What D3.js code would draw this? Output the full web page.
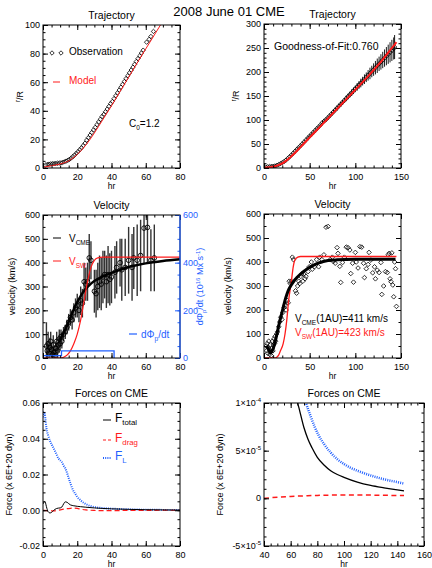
<!DOCTYPE html>
<html>
<head>
<meta charset="utf-8">
<script src="https://cdn.jsdelivr.net/npm/d3@7"></script>
<style>
body { margin: 0; background: #fff; }
svg { display: block; font-family: "Liberation Sans", Arial, sans-serif; }
</style>
</head>
<body>
<svg id="chart" width="432" height="568"></svg>
<script>
// ---- trajectory, first 80 hr ----
const trajObsT = [1.5,2.5,3.5,4.5,5.5,6.5,7.5,8.5,9.5,10.5,11.5,12.5,13.5,14.5,15.5,16.5,17.5,18.5,19.5,20.5,21.5,22.5,23.5,24.5,25.5,26.5,27.5,28.5,29.5,30.5,31.5,32.5,33.5,34.5,35.5,36.5,37.5,38.5,39.5,40.5,41.5,42.5,43.5,44.5,45.5,46.5,47.5,48.5,49.5,50.5,51.5,52.5,53.5,54.5,55.5,56.5,57.5,58.5,60.5,62,63,64.5];
const trajObsR = [2.0,2.5,2.7,2.9,3.0,3.1,3.2,3.3,3.4,3.6,3.9,4.3,4.8,5.4,6.1,7.0,8.0,9.1,10.3,11.5,12.8,14.2,15.7,17.3,19.5,21.2,23.0,24.8,26.6,28.4,30.3,32.2,34.1,36.0,37.5,39.3,41.2,43.1,45.0,46.5,48.5,50.5,52.5,54.5,56.5,58.5,60.5,62.5,64.5,66.5,68.5,70.5,72.5,74.5,76.5,78.4,80.4,82.4,88,90,92,95.5];
const trajModelT = [0,5,10,15,20,25,30,35,40,45,50,55,60,65,70];
const trajModelR = [0.5,1.6,2.8,5,9.5,16,24.5,34,43.5,53.5,63.5,73.5,83.3,93,102.7];

// ---- trajectory, full run ----
const traj2T = [2,4,6,8,10,12,14,16,18,20,22,24,26,28,30,32,34,36,38,40,42,44,46,48,50,52,54,56,58,60,62,64,66,68,70,72,74,76,78,80,82,84,86,88,90,92,94,96,98,100,102,104,106,108,110,112,114,116,118,120,122,124,126,128,130,132,134,136,138,140,142,143];
const traj2R = [2,2.6,3,3.3,3.6,4.3,5.4,7,9.1,11,13.5,16.3,20,23.5,27,31,35,39,42.5,46.5,50.5,54.5,58.5,62.5,66.5,70.5,74.5,78.4,82.4,86,90,95,98,101,105,109,113,117,121,125,129,133,137,141,145,149,153,157,161,165,169,173,177,181,185,189,193,197,201,205,209,213,217,221,225,229,233,237,241,245,249,252];
const traj2Err = [0,0,0,0,0,0,0,0,0,0,0,0,0,0,1,1,1,1,1,1,1,1,1,2,2,2,2,2,2,2,2,3,3,3,3,3,4,4,4,4,5,5,5,5,6,6,6,7,7,7,8,8,9,9,10,10,11,12,12,13,14,15,15,16,17,18,19,20,21,22,23,25];
const traj2ModelT = [0,10,20,30,40,50,60,70,80,90,100,110,120,130,140,145];
const traj2ModelR = [0.5,2.8,9.5,24.5,43.5,63.5,83.3,103,123,143,163,183,204,226,250,262];

// ---- velocity, first 80 hr ----
const velT = [2,2.5,3,3.5,4,4.5,5,5.5,6,6.5,7,7.5,8,8.5,9,9.5,10,10.5,11,12,13,14,15,16,17,18,19,20,21,22,23,24,25,26,27,28,30,31,32,33,34,35,36,37,38,39,40,42,43,45,46,48,50,52,53,55,57,59,61,63,65];
const velV = [50,30,60,20,45,70,35,15,55,25,10,40,70,30,55,80,60,90,70,100,110,130,150,170,160,190,210,220,200,240,230,320,310,320,420,410,280,270,300,320,310,340,350,320,350,330,340,360,380,400,370,380,410,380,420,410,430,545,548,410,420];
const velErr = [100,40,50,30,40,40,30,30,40,30,30,30,40,30,30,40,30,30,30,30,30,30,35,35,40,40,40,50,50,60,60,80,70,80,100,80,90,100,100,110,110,110,100,110,120,110,110,110,110,100,130,120,140,140,130,150,150,150,150,130,140];
const vCmeT = [10,12,14,16,18,20,22,24,26,28,30,35,40,45,50,55,60,70,80];
const vCmeV = [75,105,135,170,205,235,260,282,298,312,323,342,357,370,382,390,397,407,414];
const vSwT = [0,10,12,14,16,18,20,22,24,26,28,30,32,35,40,80];
const vSwV = [0,0,3,12,30,60,100,160,240,320,380,410,420,423,423,423];
const fluxT = [0,10.8,41.5];
const fluxV = [10,30,0];

// ---- velocity, full run ----
const vel2T = [2.3,2.9,3.5,4,4.6,5.2,5.8,6.3,6.9,7.5,8,8.6,9.2,9.8,10.4,10.9,11.5,12.1,12.7,13.8,15,16.1,17.3,18.4,19.6,20.7,21.9,23,24.2,25.3,26.5,27.6,28.8,29.9,31,32.2,34.5,35.7,36.8,38,39.1,40.3,41.4,42.6,43.7,44.9,46,48.3,49.5,51.8,52.9,55.2,57.5,59.8,61,63.3,65.6,67.9,70.2,72.5,74.8,76,78,80,81,83,84,86,88,90,92,94,95,97,98,100,101,103,105,107,109,110,112,114,115,117,119,121,122,124,126,128,129,131,133,135,136,137,138,139,140,141,142,143,144,145];
const vel2V = [50,30,60,20,45,70,35,15,55,25,10,40,70,30,55,80,60,90,70,100,110,130,150,170,160,190,210,220,200,240,230,320,310,320,420,410,280,270,300,320,310,340,350,320,350,330,340,360,380,400,370,380,410,380,420,410,430,545,548,410,420,402,395,460,436,382,315,398,420,462,460,450,352,395,316,440,400,375,464,462,395,335,372,390,440,408,355,380,330,366,356,398,265,300,360,356,430,436,330,318,438,304,255,400,372,215];
const vCme2T = [3,5,7,9,11,13,15,17,19,21,23,25,27,30,33,36,40,45,50,55,60,65,70,80,100,144];
const vCme2V = [50,35,22,30,50,80,115,150,180,210,240,265,285,305,322,335,350,365,378,388,396,402,406,409,411,411];
const vSw2T = [0,12,14,16,18,21,23,25,27,30,32,34,37,40,145];
const vSw2V = [0,0,3,12,30,60,100,160,240,320,380,410,420,423,423];

// ---- forces, first 80 hr ----
const fTotT = [0,0.5,1,1.5,2,3,4,5,6,7,8,9,10,11,12,13,14,15,16,18,20,22,25,30,35,40,50,60,70,80];
const fTotV = [0.0035,0.0045,0.0048,0.004,0.002,-0.0008,-0.0015,-0.0012,-0.0003,0.0005,0.001,0.0012,0.0013,0.0018,0.0035,0.0047,0.0045,0.0037,0.003,0.0025,0.0022,0.002,0.0017,0.0013,0.001,0.0008,0.0005,0.0003,0.0002,0.0001];
const fDragT = [0,2,4,6,8,10,12,14,16,18,20,22,25,30,35,40,50,60,70,80];
const fDragV = [0,-0.0002,-0.0004,-0.0004,-0.0002,0.0002,0.0006,0.0009,0.0011,0.0012,0.001,0.0006,0.0002,-0.0001,-0.0002,-0.0002,-0.0001,-0.0001,0,0];
const fLT = [0,0.5,1,1.5,2,3,4,5,6,7,8,9,10,11,12,13,14,15,16,17,18,19,20,22,24,26,28,30,35,40,50,60,70,80];
const fLV = [0.052,0.055,0.054,0.05,0.046,0.042,0.039,0.037,0.035,0.033,0.031,0.029,0.028,0.027,0.025,0.0235,0.021,0.018,0.015,0.0125,0.0105,0.009,0.0075,0.0055,0.004,0.003,0.0023,0.0018,0.0012,0.0009,0.0005,0.0003,0.0002,0.0001];

// ---- forces, late times (units of 1e-5) ----
const fTot2T = [64,66,70,73,76,80,85,90,95,100,110,120,130,140,145];
const fTot2V = [10.6,9.6,7.4,6.2,5.3,4.3,3.5,2.9,2.5,2.2,1.7,1.35,1.1,0.88,0.78];
const fL2T = [70,72,75,78,81,85,90,95,100,105,110,120,130,140,145];
const fL2V = [10.8,9.8,8.6,7.5,6.6,5.7,4.8,4.1,3.6,3.2,2.9,2.4,2.0,1.7,1.55];
const fDrag2T = [40,50,60,70,80,90,100,110,120,130,140,145];
const fDrag2V = [0,0.12,0.2,0.26,0.31,0.34,0.35,0.35,0.34,0.32,0.3,0.29];

// ---- ticks ----
const ticks80 = [0,20,40,60,80];
const ticks150 = [0,50,100,150];
const ticksR1 = [0,20,40,60,80,100];
const ticksR2 = [0,50,100,150,200,250,300];
const ticksV = [0,100,200,300,400,500,600];
const ticksFlux = [0,200,400,600];
const ticksF = [-0.02,0,0.02,0.04,0.06];
const ticksX6 = [40,60,80,100,120,140,160];
const ticksF2 = [-5,0,5,10];
const labelsF2 = ["-5×10", "0", "5×10", "1×10"];
const expF2 = ["-5", "", "-5", "-4"];

const RED = "#ff1a1a";
const BLUE = "#1f5fff";
const svg = d3.select("#chart");
let clipCount = 0;

const diamond = r => `M0,${-r}L${r},0L0,${r}L${-r},0Z`;

function makePanel(o) {
  const W = o.box.w, H = o.box.h;
  const g = svg.append("g").attr("transform", `translate(${o.box.x},${o.box.y})`);
  const x = d3.scaleLinear().domain(o.xd).range([0, W]);
  const y = d3.scaleLinear().domain(o.yd).range([H, 0]);
  const cid = "clip" + (++clipCount);
  g.append("clipPath").attr("id", cid).append("rect").attr("width", W).attr("height", H);
  const plot = g.append("g").attr("clip-path", `url(#${cid})`);
  const axes = g.append("g");

  const addAxis = (axis, tr, color) => {
    const a = axes.append("g").attr("transform", tr || null).call(axis);
    a.select(".domain").remove();
    a.attr("font-family", null).attr("font-size", 9);
    if (color) a.attr("color", color);
    return a;
  };
  const xm = d3.range(o.xd[0], o.xd[1] + 1e-9, o.xms);
  const ym = d3.range(o.yd[0], o.yd[1] + 1e-12, o.yms);

  addAxis(d3.axisBottom(x).tickValues(o.xt).tickSize(-5).tickPadding(5.5).tickFormat(d => d), `translate(0,${H})`);
  addAxis(d3.axisBottom(x).tickValues(xm).tickSize(-2.5).tickFormat(""), `translate(0,${H})`);
  addAxis(d3.axisTop(x).tickValues(o.xt).tickSize(-5).tickFormat(""));
  addAxis(d3.axisTop(x).tickValues(xm).tickSize(-2.5).tickFormat(""));
  addAxis(d3.axisLeft(y).tickValues(o.yt).tickSize(-5).tickPadding(3).tickFormat(o.yf || ""));
  addAxis(d3.axisLeft(y).tickValues(ym).tickSize(-2.5).tickFormat(""));
  if (!o.noRight) {
    addAxis(d3.axisRight(y).tickValues(o.yt).tickSize(-5).tickFormat(""), `translate(${W},0)`);
    addAxis(d3.axisRight(y).tickValues(ym).tickSize(-2.5).tickFormat(""), `translate(${W},0)`);
  }
  g.append("rect").attr("width", W).attr("height", H)
    .attr("fill", "none").attr("stroke", "#000").attr("stroke-width", 1);

  g.append("text").attr("x", W / 2).attr("y", -6).attr("text-anchor", "middle")
    .attr("font-size", 10.5).text(o.title);
  g.append("text").attr("x", W / 2).attr("y", H + 21).attr("text-anchor", "middle")
    .attr("font-size", 8.5).text("hr");

  const yl = svg.append("text")
    .attr("transform", `translate(${o.ylx},${o.box.y + H / 2}) rotate(-90)`)
    .attr("text-anchor", "middle").attr("font-size", 9);
  o.ylab(yl);

  return { g, plot, x, y, axes };
}

const rOverR = t => {
  t.append("tspan").attr("font-size", 6.5).attr("dy", -3).text("r");
  t.append("tspan").attr("dy", 3).text("/R");
};

function line(p, T, V, curve) {
  return d3.line().x((d, i) => p.x(T[i])).y((d, i) => p.y(V[i])).curve(curve || d3.curveMonotoneX)(T);
}

function legendText(g, xPos, yPos, main, sub, rest, color, size) {
  const t = g.append("text").attr("x", xPos).attr("y", yPos)
    .attr("font-size", size || 10).attr("fill", color || "#000");
  t.append("tspan").text(main);
  if (sub) t.append("tspan").attr("font-size", (size || 10) * 0.65).attr("dy", 3).text(sub);
  if (rest) t.append("tspan").attr("dy", sub ? -3 : 0).text(rest);
  return t;
}

// ================= Title =================
svg.append("text").attr("x", 229).attr("y", 16).attr("text-anchor", "middle")
  .attr("font-size", 13).text("2008 June 01 CME");

// ================= Panel 1 =================
const p1 = makePanel({
  box: { x: 43, y: 25, w: 137, h: 143 }, xd: [0, 80], yd: [0, 100],
  xt: ticks80, xms: 5, yt: ticksR1, yms: 5, yf: d => d,
  title: "Trajectory", ylx: 23, ylab: rOverR
});
p1.plot.selectAll("path.obs").data(trajObsT).join("path")
  .attr("d", diamond(2.2))
  .attr("transform", (d, i) => `translate(${p1.x(d)},${p1.y(trajObsR[i])})`)
  .attr("fill", "none").attr("stroke", "#000").attr("stroke-width", 0.8);
p1.plot.append("path").attr("d", line(p1, trajModelT, trajModelR))
  .attr("fill", "none").attr("stroke", RED).attr("stroke-width", 1);
[52, 61].forEach(xx => p1.g.append("path").attr("d", diamond(2.2))
  .attr("transform", `translate(${xx - 43},${53 - 25})`)
  .attr("fill", "none").attr("stroke", "#000").attr("stroke-width", 0.8));
legendText(p1.g, 69 - 43, 55 - 25, "Observation");
p1.g.append("line").attr("x1", 53 - 43).attr("x2", 60 - 43).attr("y1", 82 - 25).attr("y2", 82 - 25)
  .attr("stroke", RED).attr("stroke-width", 1);
legendText(p1.g, 69 - 43, 84 - 25, "Model", null, null, RED);
legendText(p1.g, 129 - 43, 127 - 25, "C", "0", "=1.2");

// ================= Panel 2 =================
const p2 = makePanel({
  box: { x: 264, y: 24, w: 137, h: 144 }, xd: [0, 150], yd: [0, 300],
  xt: ticks150, xms: 10, yt: ticksR2, yms: 10, yf: d => d,
  title: "Trajectory", ylx: 239, ylab: rOverR
});
p2.plot.selectAll("line.err").data(traj2T.filter((d, i) => traj2Err[i] > 0)).join("line")
  .each(function (d) {
    const i = traj2T.indexOf(d);
    d3.select(this).attr("x1", p2.x(d)).attr("x2", p2.x(d))
      .attr("y1", p2.y(traj2R[i] - traj2Err[i])).attr("y2", p2.y(traj2R[i] + traj2Err[i]));
  })
  .attr("stroke", "#000").attr("stroke-width", 0.9);
p2.plot.selectAll("path.obs").data(traj2T).join("path")
  .attr("d", diamond(2.2))
  .attr("transform", (d, i) => `translate(${p2.x(d)},${p2.y(traj2R[i])})`)
  .attr("fill", "none").attr("stroke", "#000").attr("stroke-width", 0.8);
p2.plot.append("path").attr("d", line(p2, traj2ModelT, traj2ModelR))
  .attr("fill", "none").attr("stroke", RED).attr("stroke-width", 2);
p2.g.append("text").attr("x", 274 - 264).attr("y", 49.5 - 24).attr("font-size", 10.5)
  .text("Goodness-of-Fit:0.760");

// ================= Panel 3 =================
const p3 = makePanel({
  box: { x: 43, y: 215, w: 137, h: 143 }, xd: [0, 80], yd: [0, 600],
  xt: ticks80, xms: 5, yt: ticksV, yms: 50, yf: d => d, noRight: true,
  title: "Velocity", ylx: 14.5, ylab: t => t.text("velocity (km/s)")
});
const yFlux = d3.scaleLinear().domain([0, 600]).range([143, 0]);
p3.plot.selectAll("line.err").data(velT).join("line")
  .attr("x1", d => p3.x(d)).attr("x2", d => p3.x(d))
  .attr("y1", (d, i) => p3.y(Math.max(0, velV[i] - velErr[i])))
  .attr("y2", (d, i) => p3.y(velV[i] + velErr[i]))
  .attr("stroke", "#333").attr("stroke-width", 1.4);
p3.plot.selectAll("circle.obs").data(velT).join("circle")
  .attr("cx", d => p3.x(d)).attr("cy", (d, i) => p3.y(velV[i])).attr("r", 2.3)
  .attr("fill", "none").attr("stroke", "#000").attr("stroke-width", 0.9);
p3.plot.append("path").attr("d", line(p3, vCmeT, vCmeV))
  .attr("fill", "none").attr("stroke", "#000").attr("stroke-width", 2.5);
p3.plot.append("path").attr("d", line(p3, vSwT, vSwV))
  .attr("fill", "none").attr("stroke", RED).attr("stroke-width", 1.2);
p3.plot.append("path")
  .attr("d", d3.line().x((d, i) => p3.x(fluxT[i])).y((d, i) => yFlux(fluxV[i])).curve(d3.curveStepAfter)(fluxT))
  .attr("fill", "none").attr("stroke", BLUE).attr("stroke-width", 1.3);
// right flux axis in blue
{
  const a1 = p3.axes.append("g").attr("transform", "translate(137,0)")
    .call(d3.axisRight(yFlux).tickValues(ticksFlux).tickSize(-5).tickPadding(3));
  const a2 = p3.axes.append("g").attr("transform", "translate(137,0)")
    .call(d3.axisRight(yFlux).tickValues(d3.range(0, 601, 50)).tickSize(-2.5).tickFormat(""));
  [a1, a2].forEach(a => { a.select(".domain").remove(); a.attr("font-family", null).attr("font-size", 9).attr("color", BLUE); });
  p3.g.append("line").attr("x1", 137).attr("x2", 137).attr("y1", 0).attr("y2", 143)
    .attr("stroke", BLUE).attr("stroke-width", 1.2);
  const rl = svg.append("text").attr("transform", `translate(203,286.5) rotate(-90)`)
    .attr("text-anchor", "middle").attr("font-size", 9).attr("fill", BLUE);
  rl.append("tspan").text("dΦ");
  rl.append("tspan").attr("font-size", 6).attr("dy", 2.5).text("p");
  rl.append("tspan").attr("dy", -2.5).text("/dt (10");
  rl.append("tspan").attr("font-size", 6).attr("dy", -3.5).text("16");
  rl.append("tspan").attr("dy", 3.5).text(" Mx s");
  rl.append("tspan").attr("font-size", 6).attr("dy", -3.5).text("-1");
  rl.append("tspan").attr("dy", 3.5).text(")");
}
p3.g.append("line").attr("x1", 53 - 43).attr("x2", 61 - 43).attr("y1", 238 - 215).attr("y2", 238 - 215)
  .attr("stroke", "#000").attr("stroke-width", 1);
legendText(p3.g, 69 - 43, 242 - 215, "V", "CME");
p3.g.append("line").attr("x1", 53 - 43).attr("x2", 61 - 43).attr("y1", 261 - 215).attr("y2", 261 - 215)
  .attr("stroke", RED).attr("stroke-width", 1);
legendText(p3.g, 69 - 43, 265 - 215, "V", "SW", null, RED);
p3.g.append("line").attr("x1", 129 - 43).attr("x2", 137 - 43).attr("y1", 334 - 215).attr("y2", 334 - 215)
  .attr("stroke", BLUE).attr("stroke-width", 1.2);
legendText(p3.g, 141 - 43, 338 - 215, "dΦ", "p", "/dt", BLUE);

// ================= Panel 4 =================
const p4 = makePanel({
  box: { x: 264, y: 214, w: 137, h: 144 }, xd: [0, 150], yd: [0, 600],
  xt: ticks150, xms: 10, yt: ticksV, yms: 50, yf: d => d,
  title: "Velocity", ylx: 231, ylab: t => t.text("velocity (km/s)")
});
p4.plot.selectAll("path.obs").data(vel2T).join("path")
  .attr("d", diamond(2.3))
  .attr("transform", (d, i) => `translate(${p4.x(d)},${p4.y(vel2V[i])})`)
  .attr("fill", "none").attr("stroke", "#000").attr("stroke-width", 0.8);
p4.plot.append("path").attr("d", line(p4, vSw2T, vSw2V))
  .attr("fill", "none").attr("stroke", RED).attr("stroke-width", 1.3);
p4.plot.append("path").attr("d", line(p4, vCme2T, vCme2V))
  .attr("fill", "none").attr("stroke", "#000").attr("stroke-width", 3);
legendText(p4.g, 295 - 264, 322 - 214, "V", "CME", "(1AU)=411 km/s");
legendText(p4.g, 295 - 264, 335.5 - 214, "V", "SW", "(1AU)=423 km/s", RED);

// ================= Panel 5 =================
const p5 = makePanel({
  box: { x: 43, y: 403, w: 137, h: 143 }, xd: [0, 80], yd: [-0.02, 0.06],
  xt: ticks80, xms: 5, yt: ticksF, yms: 0.005, yf: d => d.toFixed(2),
  title: "Forces on CME", ylx: 12, ylab: t => t.text("Force (x 6E+20 dyn)")
});
p5.plot.append("path").attr("d", line(p5, fLT, fLV))
  .attr("fill", "none").attr("stroke", BLUE).attr("stroke-width", 2).attr("stroke-dasharray", "1,1.2");
p5.plot.append("path").attr("d", line(p5, fDragT, fDragV))
  .attr("fill", "none").attr("stroke", RED).attr("stroke-width", 1.2).attr("stroke-dasharray", "5,3");
p5.plot.append("path").attr("d", line(p5, fTotT, fTotV))
  .attr("fill", "none").attr("stroke", "#000").attr("stroke-width", 1);
p5.g.append("line").attr("x1", 103 - 43).attr("x2", 111 - 43).attr("y1", 420 - 403).attr("y2", 420 - 403)
  .attr("stroke", "#000").attr("stroke-width", 1);
legendText(p5.g, 115 - 43, 422 - 403, "F", "total", null, "#000", 12);
p5.g.append("line").attr("x1", 103 - 43).attr("x2", 111 - 43).attr("y1", 440 - 403).attr("y2", 440 - 403)
  .attr("stroke", RED).attr("stroke-width", 1.2).attr("stroke-dasharray", "3,2");
legendText(p5.g, 115 - 43, 442 - 403, "F", "drag", null, RED, 12);
p5.g.append("line").attr("x1", 103 - 43).attr("x2", 111 - 43).attr("y1", 458 - 403).attr("y2", 458 - 403)
  .attr("stroke", BLUE).attr("stroke-width", 2).attr("stroke-dasharray", "1,1.2");
legendText(p5.g, 115 - 43, 460 - 403, "F", "L", null, BLUE, 12);

// ================= Panel 6 =================
const p6 = makePanel({
  box: { x: 264, y: 403, w: 160, h: 143 }, xd: [40, 160], yd: [-5, 10],
  xt: ticksX6, xms: 5, yt: ticksF2, yms: 1, yf: null,
  title: "Forces on CME", ylx: 223, ylab: t => t.text("Force (x 6E+20 dyn)")
});
ticksF2.forEach((v, i) => {
  const t = p6.g.append("text").attr("x", -3).attr("y", p6.y(v)).attr("dy", "0.32em")
    .attr("text-anchor", "end").attr("font-size", 9);
  t.append("tspan").text(labelsF2[i]);
  if (expF2[i]) t.append("tspan").attr("font-size", 6).attr("dy", -4).text(expF2[i]);
});
p6.plot.append("path").attr("d", line(p6, fL2T, fL2V))
  .attr("fill", "none").attr("stroke", BLUE).attr("stroke-width", 2.5).attr("stroke-dasharray", "1,1.2");
p6.plot.append("path").attr("d", line(p6, fDrag2T, fDrag2V))
  .attr("fill", "none").attr("stroke", RED).attr("stroke-width", 1.5).attr("stroke-dasharray", "5,3.5");
p6.plot.append("path").attr("d", line(p6, fTot2T, fTot2V))
  .attr("fill", "none").attr("stroke", "#000").attr("stroke-width", 1.3);
</script>
</body>
</html>
